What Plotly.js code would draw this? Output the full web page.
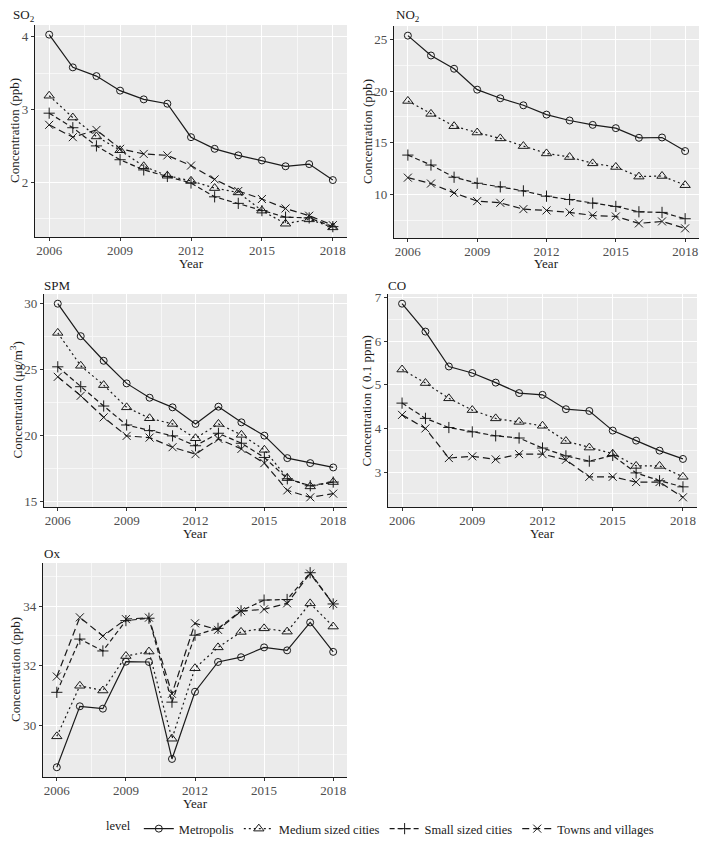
<!DOCTYPE html>
<html>
<head>
<meta charset="utf-8">
<script src="https://cdn.plot.ly/plotly-3.0.1.min.js"></script>
<style>html,body{margin:0;padding:0;background:#fff}#chart{width:708px;height:848px}</style>
</head>
<body>
<div id="chart"></div>
<script>
// ---------- DATA ----------
const years = [2006, 2007, 2008, 2009, 2010, 2011, 2012, 2013, 2014, 2015, 2016, 2017, 2018];
const levels = ["Metropolis", "Medium sized cities", "Small sized cities", "Towns and villages"];

const so2Metropolis = [4.03, 3.58, 3.46, 3.26, 3.14, 3.08, 2.62, 2.46, 2.37, 2.30, 2.22, 2.25, 2.03];
const so2Medium     = [3.19, 2.89, 2.63, 2.44, 2.22, 2.09, 2.02, 1.92, 1.86, 1.61, 1.43, 1.49, 1.38];
const so2Small      = [2.95, 2.75, 2.50, 2.31, 2.17, 2.08, 1.99, 1.80, 1.71, 1.61, 1.52, 1.51, 1.39];
const so2Towns      = [2.79, 2.62, 2.72, 2.46, 2.39, 2.37, 2.23, 2.04, 1.88, 1.77, 1.64, 1.54, 1.41];

const no2Metropolis = [25.35, 23.43, 22.15, 20.13, 19.30, 18.62, 17.72, 17.15, 16.73, 16.41, 15.48, 15.51, 14.20];
const no2Medium     = [19.04, 17.79, 16.60, 15.99, 15.42, 14.68, 13.97, 13.62, 13.01, 12.66, 11.73, 11.79, 10.90];
const no2Small      = [13.81, 12.85, 11.67, 11.09, 10.74, 10.35, 9.84, 9.52, 9.17, 8.85, 8.33, 8.27, 7.66];
const no2Towns      = [11.63, 11.06, 10.16, 9.36, 9.20, 8.59, 8.46, 8.27, 7.98, 7.88, 7.21, 7.40, 6.73];

const spmMetropolis = [30.00, 27.53, 25.66, 23.94, 22.85, 22.12, 20.86, 22.17, 20.98, 19.97, 18.26, 17.88, 17.55];
const spmMedium     = [27.78, 25.28, 23.81, 22.12, 21.29, 20.86, 19.77, 20.86, 20.03, 18.89, 16.74, 16.11, 16.44];
const spmSmall      = [25.20, 23.69, 22.22, 20.78, 20.35, 19.95, 19.20, 20.15, 19.39, 18.31, 16.69, 16.16, 16.44];
const spmTowns      = [24.44, 23.00, 21.36, 19.95, 19.82, 19.09, 18.56, 19.72, 18.96, 17.88, 15.81, 15.28, 15.56];

const coMetropolis  = [6.86, 6.22, 5.42, 5.27, 5.05, 4.81, 4.77, 4.44, 4.40, 3.95, 3.72, 3.49, 3.30];
const coMedium      = [5.35, 5.04, 4.69, 4.42, 4.23, 4.15, 4.06, 3.71, 3.56, 3.42, 3.14, 3.14, 2.89];
const coSmall       = [4.58, 4.23, 4.02, 3.92, 3.83, 3.78, 3.55, 3.37, 3.25, 3.38, 2.98, 2.80, 2.66];
const coTowns       = [4.31, 4.00, 3.32, 3.36, 3.29, 3.41, 3.41, 3.28, 2.89, 2.89, 2.77, 2.77, 2.42];

const oxMetropolis  = [28.58, 30.63, 30.55, 32.13, 32.12, 28.86, 31.12, 32.12, 32.28, 32.61, 32.51, 33.45, 32.46];
const oxMedium      = [29.62, 31.32, 31.16, 32.32, 32.47, 29.54, 31.91, 32.61, 33.13, 33.25, 33.14, 34.09, 33.31];
const oxSmall       = [31.10, 32.89, 32.49, 33.51, 33.59, 30.77, 33.02, 33.25, 33.84, 34.20, 34.22, 35.12, 34.07];
const oxTowns       = [31.63, 33.62, 32.99, 33.56, 33.61, 31.05, 33.42, 33.20, 33.83, 33.89, 34.09, 35.09, 34.07];

const panelTitles = ["SO<sub>2</sub>", "NO<sub>2</sub>", "SPM", "CO", "Ox"];
const yLabels = ["Concentration (ppb)", "Concentration (ppb)", "Concentration (μg/m<sup>3</sup>)", "Concentration ( 0.1 ppm)", "Concentration (ppb)"];
const xLabel = "Year";
const xTickVals = [2006, 2009, 2012, 2015, 2018];
const yTickVals = [[2, 3, 4], [10, 15, 20, 25], [15, 20, 25, 30], [3, 4, 5, 6, 7], [30, 32, 34]];

const panelData = [
  [so2Metropolis, so2Medium, so2Small, so2Towns],
  [no2Metropolis, no2Medium, no2Small, no2Towns],
  [spmMetropolis, spmMedium, spmSmall, spmTowns],
  [coMetropolis, coMedium, coSmall, coTowns],
  [oxMetropolis, oxMedium, oxSmall, oxTowns]
];

// ---------- STYLE / LAYOUT ----------
const W = 708, H = 848;
const px = v => v / W;
const py = v => 1 - v / H;
const FONT = 'Liberation Serif, Times New Roman, serif';
const INK = '#1a1a1a';

// plot area boxes in pixels [left, right, top, bottom]
const boxes = [
  [35, 347, 25, 237],
  [394, 699, 26, 238],
  [44, 347, 294, 507],
  [388, 697, 294, 507],
  [43, 347, 563, 777]
];
const yMinorStep = [0.5, 2.5, 2.5, 0.5, 1];
const titlePos = [[11, 15], [394, 15], [42, 285], [386, 285], [42, 553]];
const yTitleX = [14, 367, 16, 366, 15];
const xTitleY = [263, 263, 533, 533, 803];

const lineStyles = [
  {dash: 'solid', symbol: 'circle-open', size: 7},
  {dash: '2px,3px', symbol: 'triangle-up-open', size: 9},
  {dash: '5px,3px', symbol: 'cross-thin-open', size: 8},
  {dash: '7px,4px', symbol: 'x-thin-open', size: 8}
];

function pad(arrs) {
  let mn = Infinity, mx = -Infinity;
  arrs.forEach(a => a.forEach(v => { mn = Math.min(mn, v); mx = Math.max(mx, v); }));
  const e = (mx - mn) * 0.05;
  return [mn - e, mx + e];
}

const traces = [];
const layout = {
  width: W, height: H,
  margin: {l: 0, r: 0, t: 0, b: 0},
  paper_bgcolor: '#ffffff',
  plot_bgcolor: '#EBEBEB',
  font: {family: FONT, size: 13, color: INK},
  showlegend: true,
  legend: {
    orientation: 'h',
    x: px(104), xanchor: 'left',
    y: py(829), yanchor: 'middle',
    title: {text: 'level', side: 'left', font: {family: FONT, size: 12.5, color: INK}},
    font: {family: FONT, size: 12.5, color: INK},
    itemwidth: 30,
    tracegroupgap: 0,
    bgcolor: 'rgba(0,0,0,0)'
  },
  annotations: [],
  shapes: []
};

panelData.forEach((series, p) => {
  const ax = p === 0 ? '' : String(p + 1);
  series.forEach((vals, l) => {
    const st = lineStyles[l];
    traces.push({
      type: 'scatter', mode: 'lines+markers',
      x: years, y: vals,
      name: levels[l], legendgroup: levels[l], showlegend: p === 0,
      xaxis: 'x' + ax, yaxis: 'y' + ax,
      line: {color: INK, width: 1.2, dash: st.dash},
      marker: {symbol: st.symbol, size: st.size, color: INK, line: {color: INK, width: 1}},
      hoverinfo: 'x+y+name'
    });
  });
  const b = boxes[p];
  const common = {
    showgrid: true, gridcolor: '#ffffff', gridwidth: 1.1,
    zeroline: false, showline: true, linecolor: INK, linewidth: 1.4,
    ticks: 'outside', ticklen: 3, tickcolor: '#333333', tickwidth: 1,
    tickfont: {family: FONT, size: 13, color: '#4D4D4D'},
    fixedrange: true
  };
  layout['xaxis' + ax] = Object.assign({}, common, {
    domain: [px(b[0]), px(b[1])],
    anchor: 'y' + ax,
    range: [2005.4, 2018.6],
    tickvals: xTickVals,
    ticklabelstandoff: -2,
    minor: {tickvals: [2007.5, 2010.5, 2013.5, 2016.5], showgrid: true, gridcolor: '#F7F7F7', gridwidth: 0.6, ticks: ''}
  });
  const yr = pad(series);
  const tv = yTickVals[p];
  const minorVals = [];
  for (let v = tv[0] - yMinorStep[p]; v <= tv[tv.length - 1] + yMinorStep[p] + 1e-9; v += 2 * yMinorStep[p]) {
    if (v > yr[0] && v < yr[1]) minorVals.push(+v.toFixed(3));
  }
  layout['yaxis' + ax] = Object.assign({}, common, {
    domain: [py(b[3]), py(b[2])],
    anchor: 'x' + ax,
    range: yr,
    tickvals: tv,
    minor: {tickvals: minorVals, showgrid: true, gridcolor: '#F7F7F7', gridwidth: 0.6, ticks: ''}
  });
  // panel title
  layout.annotations.push({
    text: panelTitles[p], xref: 'paper', yref: 'paper',
    x: px(titlePos[p][0]), y: py(titlePos[p][1]), xanchor: 'left', yanchor: 'middle',
    showarrow: false, font: {family: FONT, size: 13, color: INK}
  });
  // y title
  layout.annotations.push({
    text: yLabels[p], xref: 'paper', yref: 'paper', textangle: -90,
    x: px(yTitleX[p]), y: py((b[2] + b[3]) / 2), xanchor: 'center', yanchor: 'middle',
    showarrow: false, font: {family: FONT, size: 13, color: INK}
  });
  // x title
  layout.annotations.push({
    text: xLabel, xref: 'paper', yref: 'paper',
    x: px((b[0] + b[1]) / 2), y: py(xTitleY[p]), xanchor: 'center', yanchor: 'middle',
    showarrow: false, font: {family: FONT, size: 13, color: INK}
  });
});

Plotly.newPlot('chart', traces, layout, {displayModeBar: false, staticPlot: false});
</script>
</body>
</html>
